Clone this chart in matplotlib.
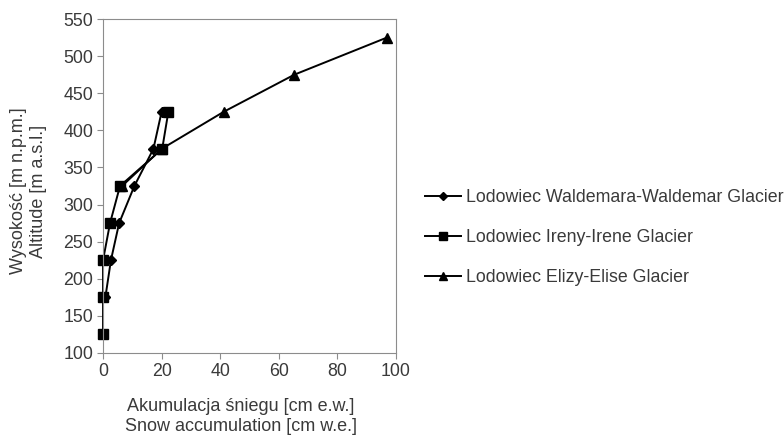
import matplotlib.pyplot as plt

plt.rcParams['font.family'] = ['Liberation Sans', 'DejaVu Sans']

# altitudes [m a.s.l.] and snow accumulation [cm w.e.]
waldemar_alt = [175, 225, 275, 325, 375, 425]
waldemar_acc = [0.8, 2.7, 5.5, 10.7, 17.2, 20.0]

irene_alt = [125, 175, 225, 275, 325, 375, 425]
irene_acc = [0.0, 0.0, 0.0, 2.4, 5.8, 20.2, 22.3]

elise_alt = [325, 375, 425, 475, 525]
elise_acc = [6.5, 20.0, 41.2, 65.3, 96.9]

labels = ['Lodowiec Waldemara-Waldemar Glacier',
          'Lodowiec Ireny-Irene Glacier',
          'Lodowiec Elizy-Elise Glacier']

fs = 12.8
txt = '#3a3a3a'

fig = plt.figure(figsize=(7.84, 4.36), dpi=100)
ax = fig.add_axes([0.1314, 0.1904, 0.3737, 0.766])

l1, = ax.plot(waldemar_acc, waldemar_alt, color='black', lw=1.4,
              marker='D', ms=5, clip_on=False)
l2, = ax.plot(irene_acc, irene_alt, color='black', lw=1.4,
              marker='s', ms=7, clip_on=False)
l3, = ax.plot(elise_acc, elise_alt, color='black', lw=1.4,
              marker='^', ms=7, clip_on=False)

ax.set_xlim(0, 100)
ax.set_ylim(100, 550)
ax.set_xticks(range(0, 101, 20))
ax.set_yticks(range(100, 551, 50))
for s in ax.spines.values():
    s.set_color('#8c8c8c')
ax.tick_params(colors='#8c8c8c', labelcolor=txt, labelsize=fs,
               direction='out', length=4, pad=3)

# axis titles placed as figure text
fig.text(0.307, 0.045, 'Akumulacja śniegu [cm e.w.]\nSnow accumulation [cm w.e.]',
         fontsize=13, color=txt, linespacing=1.25, ha='center', va='center')
fig.text(0.036, 0.562, 'Wysokość [m n.p.m.]\nAltitude [m a.s.l.]',
         fontsize=13, color=txt, linespacing=1.22, ha='center', va='center',
         rotation=90)

fig.legend([l1, l2, l3], labels, loc='center left',
           bbox_to_anchor=(0.522, 0.455), frameon=False, fontsize=fs,
           handlelength=2.0, handletextpad=0.3, labelspacing=1.31,
           markerscale=0.75, labelcolor=txt)

fig.savefig('out.png', dpi=100)
